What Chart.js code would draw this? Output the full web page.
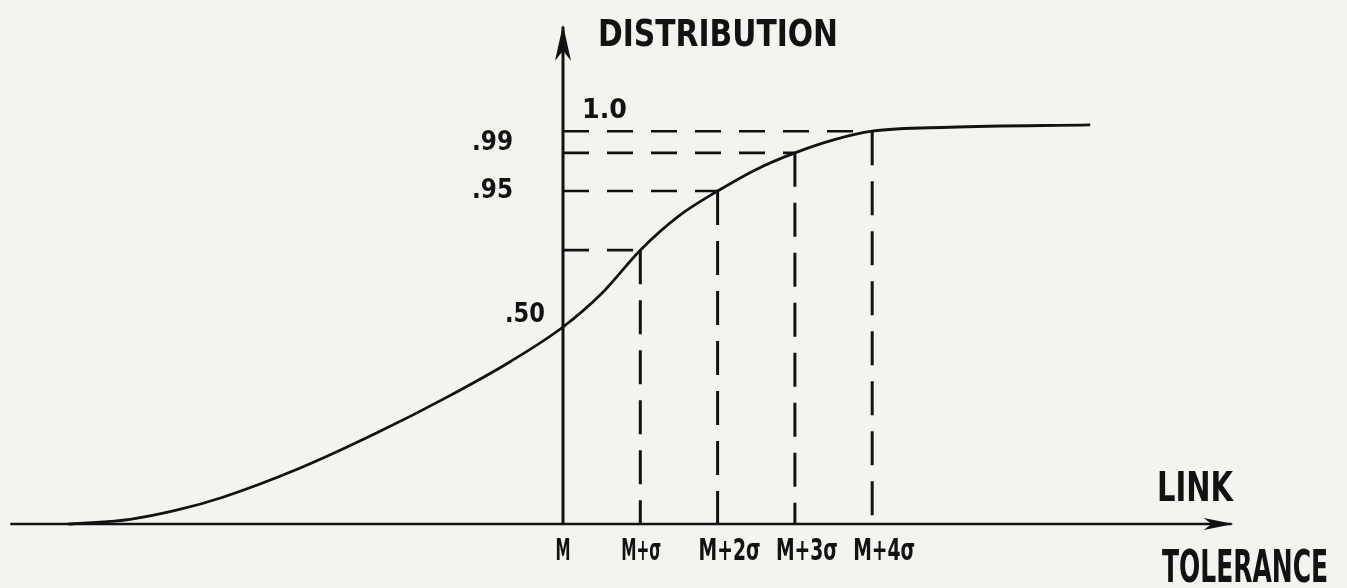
<!DOCTYPE html>
<html>
<head>
<meta charset="utf-8">
<script src="https://cdn.jsdelivr.net/npm/chart.js@4/dist/chart.umd.min.js"></script>
<style>
  html, body { margin: 0; padding: 0; background: #f3f3f0; overflow: hidden; }
  #wrap { width: 1347px; height: 588px; position: relative; }
</style>
</head>
<body>
<div id="wrap"><canvas id="cdf"></canvas></div>
<script>
// Curve (x in sigma units from M, y = cumulative distribution)
const CURVE_X = [-6.4, -6.2, -5.6, -5.0, -4.4, -3.4, -2.4, -1.5, -0.7, 0, 0.5, 1, 1.5, 2, 2.5, 3, 3.5, 4, 5, 6.82];
const CURVE_Y = [0, 0.002, 0.012, 0.035, 0.068, 0.142, 0.232, 0.322, 0.410, 0.5, 0.585, 0.695, 0.782, 0.845, 0.900, 0.942, 0.975, 0.997, 1.007, 1.013];

// dashed guides: M+k sigma and the level the curve reaches there
const SIGMA_STEPS = [1, 2, 3, 4];
const GUIDE_LEVELS = [0.695, 0.845, 0.942, 0.997];

const X_TICK_VALUES = [0, 1, 2, 3, 4];
const X_TICK_LABELS = ['M', 'M+σ', 'M+2σ', 'M+3σ', 'M+4σ'];

const Y_TICK_VALUES = [0.5, 0.845, 0.942, 0.997];
const Y_TICK_LABELS = ['.50', '.95', '.99', '1.0'];

const X_AXIS_RANGE = [-7.15, 8.65];
const Y_AXIS_RANGE = [0, 1.262];

// pixel mapping of the drawing
const W = 1347, H = 588;
const ORIGIN_X = 563, ORIGIN_Y = 524;
const PX_PER_SIGMA = 77.3, PX_PER_UNIT = 394;

const INK = '#121212';
const FONT = '"DejaVu Sans Condensed", "DejaVu Sans", sans-serif';

const datasets = [];

// axes
datasets.push({
    data: X_AXIS_RANGE.map(x => ({ x, y: 0 })),
    borderColor: INK, borderWidth: 2.6, pointRadius: 0
});
datasets.push({
    data: Y_AXIS_RANGE.map(y => ({ x: 0, y })),
    borderColor: INK, borderWidth: 3, pointRadius: 0
});

// dashed guides
SIGMA_STEPS.forEach((k, i) => {
    const v = GUIDE_LEVELS[i];
    datasets.push({
        data: [{ x: 0, y: v }, { x: k, y: v }],
        borderColor: INK, borderWidth: 2.6, borderDash: [26, 18], pointRadius: 0
    });
    datasets.push({
        data: [{ x: k, y: v }, { x: k, y: 0 }],
        borderColor: INK, borderWidth: 3, borderDash: [34, 16], pointRadius: 0
    });
});

// the distribution curve
datasets.push({
    data: CURVE_X.map((x, i) => ({ x, y: CURVE_Y[i] })),
    borderColor: INK, borderWidth: 2.8, pointRadius: 0,
    cubicInterpolationMode: 'monotone'
});

function drawText(ctx, text, x, y, size, width, align) {
    ctx.save();
    ctx.font = `bold ${size}px ${FONT}`;
    ctx.fillStyle = INK;
    ctx.textBaseline = 'alphabetic';
    const natural = ctx.measureText(text).width;
    const sx = width / natural;
    let left = x;
    if (align === 'center') left = x - width / 2;
    if (align === 'right') left = x - width;
    ctx.translate(left, y);
    ctx.scale(sx, 1);
    ctx.fillText(text, 0, 0);
    ctx.restore();
}

const decorations = {
    id: 'decorations',
    afterDatasetsDraw(chart) {
        const ctx = chart.ctx;
        const xs = chart.scales.x, ys = chart.scales.y;
        const ox = xs.getPixelForValue(0), oy = ys.getPixelForValue(0);

        // y arrow head
        const ty = ys.getPixelForValue(Y_AXIS_RANGE[1]);
        ctx.save();
        ctx.fillStyle = INK;
        ctx.beginPath();
        ctx.moveTo(ox, ty - 2);
        ctx.lineTo(ox + 8, ty + 34);
        ctx.lineTo(ox, ty + 24);
        ctx.lineTo(ox - 8, ty + 34);
        ctx.closePath();
        ctx.fill();

        // x arrow head
        const tx = xs.getPixelForValue(X_AXIS_RANGE[1]);
        ctx.beginPath();
        ctx.moveTo(tx + 2, oy);
        ctx.lineTo(tx - 28, oy - 6);
        ctx.lineTo(tx - 20, oy);
        ctx.lineTo(tx - 28, oy + 6);
        ctx.closePath();
        ctx.fill();
        ctx.restore();

        // x tick labels
        X_TICK_VALUES.forEach((v, i) => {
            const px = xs.getPixelForValue(v);
            const label = X_TICK_LABELS[i];
            if (i === 0) drawText(ctx, label, px, 560, 30, 15, 'center');
            else drawText(ctx, label, px - 19, 560, 30, label.length === 3 ? 40 : 62, 'left');
        });

        // y tick labels
        Y_TICK_VALUES.forEach((v, i) => {
            const py = ys.getPixelForValue(v);
            const label = Y_TICK_LABELS[i];
            if (label === '1.0') drawText(ctx, label, ox + 19, py - 13, 26, 45, 'left');
            else if (label === '.50') drawText(ctx, label, ox - 18, py - 5, 26, 40, 'right');
            else if (label === '.99') drawText(ctx, label, ox - 50, py - 3, 26, 41, 'right');
            else drawText(ctx, label, ox - 50, py + 7, 26, 41, 'right');
        });

        // axis titles
        drawText(ctx, 'DISTRIBUTION', 598, 46, 38, 240, 'left');
        drawText(ctx, 'LINK', 1157, 501, 41, 76, 'left');
        drawText(ctx, 'TOLERANCE', 1162, 582, 44, 166, 'left');
    }
};

new Chart(document.getElementById('cdf'), {
    type: 'line',
    data: { datasets },
    options: {
        responsive: true,
        maintainAspectRatio: false,
        animation: false,
        events: [],
        layout: { padding: 0 },
        plugins: { legend: { display: false }, tooltip: { enabled: false } },
        scales: {
            x: {
                type: 'linear', display: false,
                min: -ORIGIN_X / PX_PER_SIGMA,
                max: (W - ORIGIN_X) / PX_PER_SIGMA
            },
            y: {
                type: 'linear', display: false,
                min: -(H - ORIGIN_Y) / PX_PER_UNIT,
                max: ORIGIN_Y / PX_PER_UNIT
            }
        }
    },
    plugins: [decorations]
});
</script>
</body>
</html>
